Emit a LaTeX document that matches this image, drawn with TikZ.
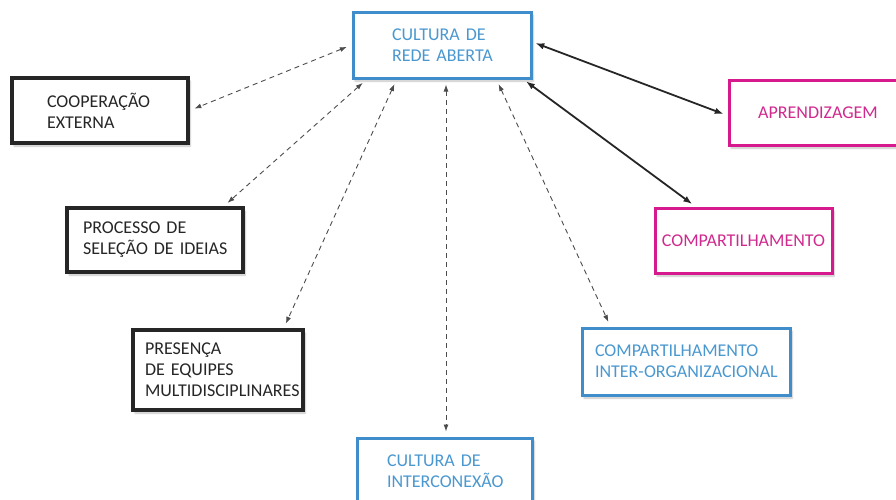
\documentclass[tikz,border=0pt]{standalone}
\usepackage{fontspec}
\setmainfont{Carlito}[WordSpace=0.75]
\usetikzlibrary{arrows.meta,shadows.blur}
\definecolor{bbox}{HTML}{3F8DCB}
\definecolor{btext}{HTML}{4A98D0}
\definecolor{mbox}{HTML}{D6198C}
\definecolor{mtext}{HTML}{D02A8E}
\begin{document}
\begin{tikzpicture}[x=1pt,y=-1pt,
  boxbase/.style={draw, line width=3pt, fill=white, inner ysep=0pt,
    blur shadow={shadow xshift=2pt,shadow yshift=-3pt,shadow opacity=25,shadow blur steps=6},
    font=\fontsize{18}{21}\selectfont},
  blackbox/.style={boxbase, draw=black!85, text=black!85, line width=3.5pt},
  bluebox/.style={boxbase, draw=bbox, text=btext},
  magbox/.style={boxbase, draw=mbox, text=mtext},
  leftbox/.style n args={4}{minimum width=#1, minimum height=#2, inner xsep=#3, text width=#4, align=left},
  dsh/.style={line width=0.9pt, black!70, dash pattern=on 5pt off 4pt,
    {Latex[length=7pt,width=5pt]}-{Latex[length=7pt,width=5pt]}, shorten <=5pt, shorten >=5pt},
  sol/.style={line width=1.8pt, black!85,
    {Latex[length=9pt,width=6.5pt]}-{Latex[length=9pt,width=6.5pt]}, shorten <=3pt, shorten >=4pt}
]
\useasboundingbox (0,0) rectangle (896,499);

\node[bluebox, leftbox={178pt}{66pt}{39pt}{100pt}] (top) at (442,45)
  {\mbox{CULTURA DE}\\\mbox{REDE ABERTA}};
\node[blackbox, leftbox={176pt}{65pt}{35pt}{106pt}] (coop) at (100,110.5)
  {\mbox{COOPERAÇÃO}\\\mbox{EXTERNA}};
\node[blackbox, leftbox={176pt}{64pt}{16pt}{144pt}] (proc) at (155,240)
  {\mbox{PROCESSO DE}\\\mbox{SELEÇÃO DE IDEIAS}};
\node[blackbox, leftbox={170pt}{80pt}{12pt}{146pt}] (pres) at (218,370)
  {\mbox{PRESENÇA}\\\mbox{DE EQUIPES}\\\mbox{MULTIDISCIPLINARES}};
\node[bluebox, leftbox={175pt}{66pt}{30pt}{115pt}] (inter) at (444.5,471)
  {\mbox{CULTURA DE}\\\mbox{INTERCONEXÃO}};
\node[bluebox, leftbox={208pt}{67pt}{13pt}{182pt}] (iorg) at (686,361.5)
  {\mbox{COMPARTILHAMENTO}\\\mbox{INTER-ORGANIZACIONAL}};
\node[magbox, minimum width=178pt, minimum height=65pt, align=center] (aprend) at (818,112.5)
  {APRENDIZAGEM};
\node[magbox, minimum width=177pt, minimum height=65pt, align=center] (comp) at (743.5,240.5)
  {COMPARTILHAMENTO};

\draw[dsh] (top.west) -- (coop.east);
\draw[dsh] ([xshift=15pt]top.south west) -- ([xshift=-21pt]proc.north east);
\draw[dsh] ([xshift=45pt]top.south west) -- ([xshift=-21pt]pres.north east);
\draw[dsh] ([xshift=4pt]top.south) -- ([xshift=4pt]top.south |- inter.north);
\draw[dsh] ([xshift=-36pt]top.south east) -- ([xshift=30pt]iorg.north west);
\draw[sol] ([yshift=3pt]top.east) -- ([yshift=-3pt]aprend.west);
\draw[sol] ([xshift=-9pt]top.south east) -- ([xshift=42pt]comp.north west);
\end{tikzpicture}
\end{document}
